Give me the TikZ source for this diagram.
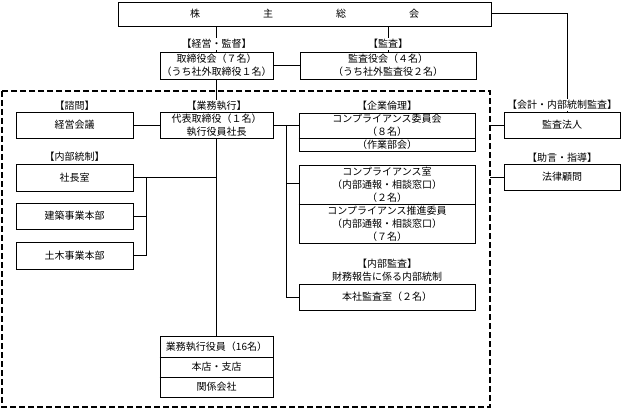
\documentclass[tikz,border=0pt]{standalone}
\usepackage{fontspec}
\setmainfont{Noto Sans CJK JP}
\begin{document}
\begin{tikzpicture}[x=1pt,y=-1pt,
  box/.style={draw, line width=0.8pt, inner sep=0pt, align=center, font=\fontsize{10}{13.2}\selectfont},
  lbl/.style={inner sep=1pt, fill=white, align=center, font=\fontsize{10}{13.2}\selectfont},
  txt/.style={inner sep=0pt, align=center, font=\fontsize{10}{13.2}\selectfont},
  ln/.style={line width=0.8pt},
  dsh/.style={line width=1.1pt, dash pattern=on 6pt off 3pt}]
\useasboundingbox (0,0) rectangle (629,409);
% connectors drawn first so labels can cover them
\coordinate (dr1) at (490,125);
\coordinate (dr2) at (490,177);
\node[box, minimum width=373pt, minimum height=24pt] (gm) at (304.5,14) {株\hspace{63pt}主\hspace{63pt}総\hspace{63pt}会};
\node[box, minimum width=113pt, minimum height=27pt] (bod) at (216.5,65.5) {取締役会（７名）\\（うち社外取締役１名）};
\node[box, minimum width=176pt, minimum height=27pt] (kab) at (388,65.5) {監査役会（４名）\\（うち社外監査役２名）};
\node[box, minimum width=117pt, minimum height=26pt] (kk) at (74.5,125) {経営会議};
\node[box, minimum width=113pt, minimum height=26pt] (ceo) at (216.5,125) {代表取締役（１名）\\執行役員社長};
\node[box, minimum width=176pt, minimum height=38pt] (cc) at (387,132) {};
\node[box, minimum width=176pt, minimum height=78pt] (cr) at (387,204) {};
\node[box, minimum width=176pt, minimum height=26pt] (ia) at (387,297) {本社監査室（２名）};
\node[box, minimum width=116pt, minimum height=26pt] (ak) at (562,125) {監査法人};
\node[box, minimum width=116pt, minimum height=26pt] (lg) at (562,177) {法律顧問};
\node[box, minimum width=117pt, minimum height=27pt] (sc) at (74.5,177.5) {社長室};
\node[box, minimum width=117pt, minimum height=26pt] (kc) at (74.5,216) {建築事業本部};
\node[box, minimum width=117pt, minimum height=27pt] (dm) at (74.5,255.5) {土木事業本部};
\node[box, minimum width=113pt, minimum height=61pt] (ex) at (216.5,366.5) {};
% dashed area
\draw[dsh] (2,91) rectangle (490,407);
% connectors
\draw[ln] (gm.south -| bod.north) -- (bod.north);
\draw[ln] (gm.south -| kab.north) -- (kab.north);
\draw[ln] (bod.east) -- (kab.west);
\draw[ln] (bod.south) -- (ceo.north);
\draw[ln] (kk.east) -- (ceo.west);
\draw[ln] (ceo.east) -- (cc.west |- ceo.east);
\draw[ln] (286,125) -- (286,297) -- (ia.west |- 0,297);
\draw[ln] (286,183) -- (cr.west |- 0,183);
\draw[ln] (ceo.south) -- (ex.north);
\draw[ln] (sc.east |- 0,177) -- (217,177);
\draw[ln] (146,177) -- (146,255) -- (dm.east |- 0,255);
\draw[ln] (kc.east) -- (146,216);
\draw[ln] (gm.east |- 0,13) -- (567,13) -- (ak.north -| 567,0);
\draw[ln] (dr1) -- (ak.west);
\draw[ln] (dr2) -- (lg.west);
% inner texts and dividers
\draw[ln] (cc.west |- 0,138) -- (cc.east |- 0,138);
\node[txt] (cc1) at (387,125) {コンプライアンス委員会\\（８名）};
\node[txt] (cc2) at (387,145) {（作業部会）};
\draw[ln] (cr.west) -- (cr.east);
\node[txt] (cr1) at (387,184.5) {コンプライアンス室\\（内部通報・相談窓口）\\（２名）};
\node[txt] (cr2) at (387,223.5) {コンプライアンス推進委員\\（内部通報・相談窓口）\\（７名）};
\draw[ln] (ex.west |- 0,357) -- (ex.east |- 0,357);
\draw[ln] (ex.west |- 0,377) -- (ex.east |- 0,377);
\node[txt] (ex1) at (216.5,346.5) {業務執行役員（16名）};
\node[txt] (ex2) at (216.5,367) {本店・支店};
\node[txt] (ex3) at (216.5,387) {関係会社};
% labels
\node[lbl] (lbod) at (216.5,44) {【経営・監督】};
\node[lbl] (lkab) at (388,44) {【監査】};
\node[lbl] (lkk) at (74.5,106) {【諮問】};
\node[lbl] (lceo) at (216.5,106) {【業務執行】};
\node[lbl] (lcc) at (387,106) {【企業倫理】};
\node[lbl] (lia) at (387,270) {【内部監査】\\財務報告に係る内部統制};
\node[lbl] (lak) at (562,105) {【会計・内部統制監査】};
\node[lbl] (llg) at (562,158) {【助言・指導】};
\node[lbl] (lsc) at (74.5,157) {【内部統制】};
\end{tikzpicture}
\end{document}
